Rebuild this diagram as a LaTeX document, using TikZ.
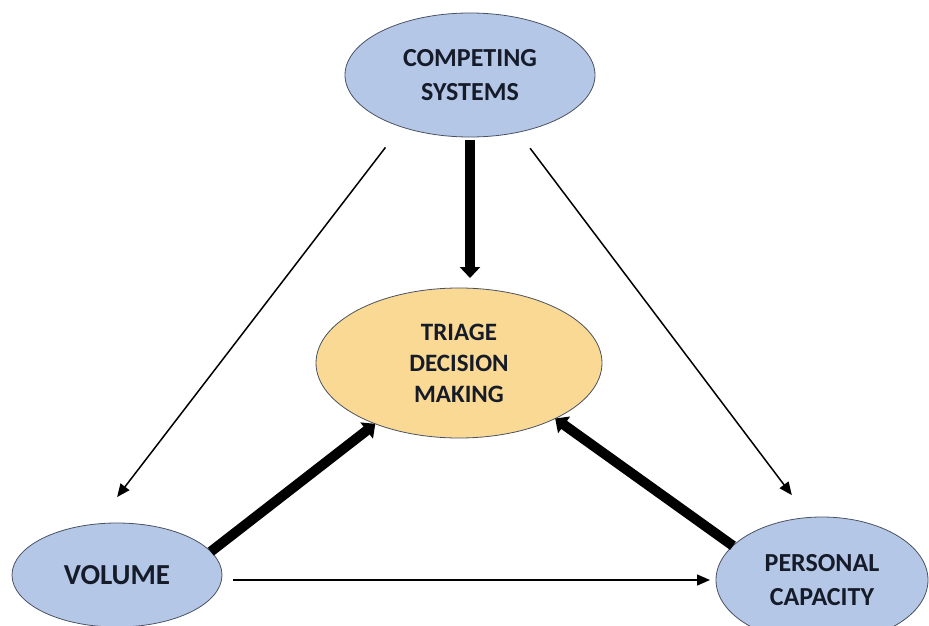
\documentclass[tikz,border=0pt]{standalone}
\usepackage{fontspec}
\setmainfont{Carlito}
\usetikzlibrary{shapes.geometric,arrows.meta}
\definecolor{bluefill}{HTML}{B4C7E7}
\definecolor{yellowfill}{HTML}{F9D993}
\definecolor{rim}{HTML}{4A5262}
\definecolor{ink}{HTML}{161B29}

\begin{document}
\begin{tikzpicture}[x=1pt,y=-1pt,
  oval/.style={ellipse,draw=rim,line width=0.8pt,inner sep=0pt,outer sep=0pt,align=center,text=ink,font=\fontsize{26}{34}\selectfont\bfseries},
  lightarrow/.style={line width=1.5pt,-{Triangle[length=13pt,width=11pt]}},
  heavyarrow/.style={line width=10pt,-{Triangle[length=11pt,width=20pt]}}]
\useasboundingbox (0,0) rectangle (929,626);
\node[oval,fill=bluefill,minimum width=250,minimum height=124](cs)at(470,75){COMPETING\\SYSTEMS};
\node[oval,fill=yellowfill,minimum width=286,minimum height=150,font=\fontsize{25}{31}\selectfont\bfseries](tdm) at (459,363){TRIAGE\\DECISION\\MAKING};
\node[oval,fill=bluefill,minimum width=210,minimum height=104,font=\fontsize{29}{34}\selectfont\bfseries](vol) at(117,575){VOLUME};
\node[oval,fill=bluefill,minimum width=212,minimum height=126](pc) at(822,580){PERSONAL\\CAPACITY};
\draw[lightarrow,shorten <=26pt,shorten >=34pt](cs.217)--(vol.112);
\draw[lightarrow,shorten <=20pt,shorten >=28pt](cs.310)--(pc.102);
\draw[heavyarrow,shorten <=3pt,shorten >=10pt](cs.south)--(cs.south |- tdm.north);

\draw[heavyarrow](vol.14)--(tdm.216);
\draw[heavyarrow](pc.159)--(tdm.330);
\draw[lightarrow,shorten <=11pt,shorten >=6pt](vol.east |- pc.west)--(pc.west);
\end{tikzpicture}
\end{document}
